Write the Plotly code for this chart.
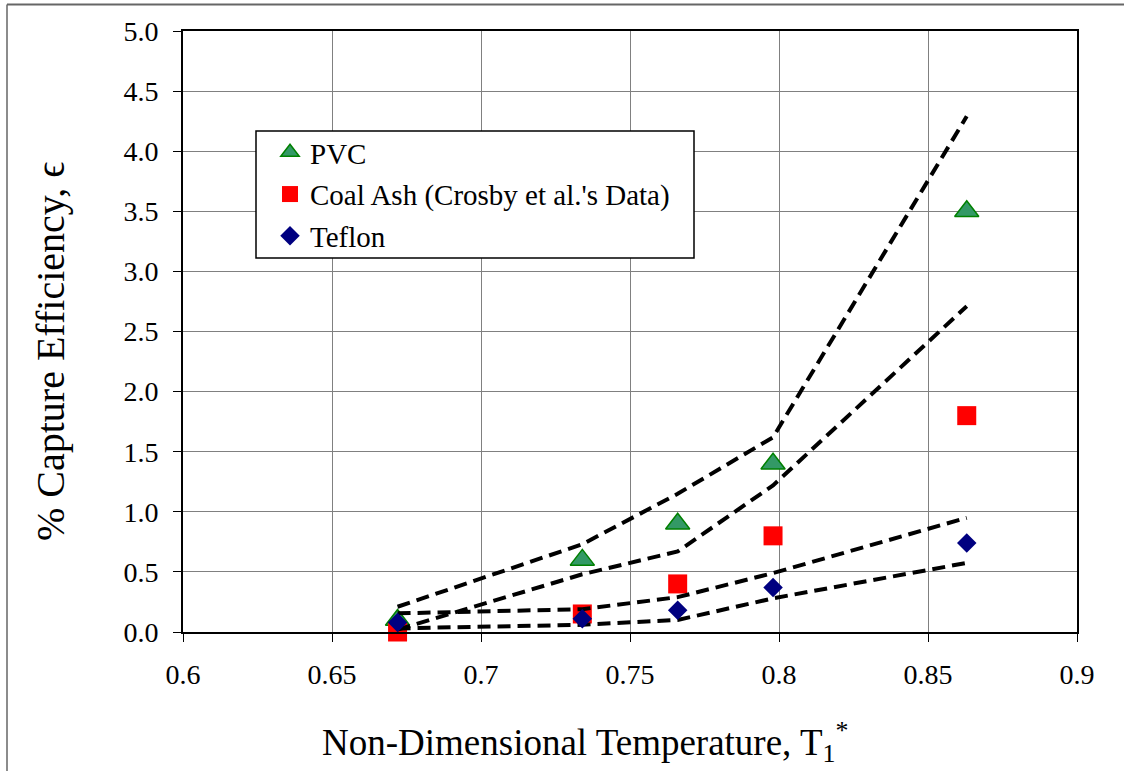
import plotly.graph_objects as go

# ---- data ----
temps = [0.672, 0.734, 0.766, 0.798, 0.863]
pvc = [0.10, 0.60, 0.90, 1.40, 3.50]
coal_ash = [0.00, 0.15, 0.40, 0.80, 1.80]
teflon = [0.08, 0.11, 0.18, 0.37, 0.74]

# dashed envelope curves
env_pvc_upper = [0.21, 0.73, 1.15, 1.62, 4.29]
env_mid_upper = [0.02, 0.48, 0.67, 1.22, 2.71]
env_mid_lower = [0.155, 0.19, 0.29, 0.49, 0.95]
env_teflon_lower = [0.03, 0.06, 0.10, 0.28, 0.575]

x_ticks = [0.6, 0.65, 0.7, 0.75, 0.8, 0.85, 0.9]
x_tick_labels = ["0.6", "0.65", "0.7", "0.75", "0.8", "0.85", "0.9"]
y_ticks = [0.0, 0.5, 1.0, 1.5, 2.0, 2.5, 3.0, 3.5, 4.0, 4.5, 5.0]
y_tick_labels = ["0.0", "0.5", "1.0", "1.5", "2.0", "2.5", "3.0", "3.5", "4.0", "4.5", "5.0"]

FONT = "Liberation Serif"

# pixel-to-paper helpers for layout geometry
L, R, T, B = 183, 1077, 31, 632
W, H = 1124, 771
def px(xp):
    return (xp - L) / (R - L)
def py(yp):
    return (B - yp) / (B - T)

fig = go.Figure()

fig.add_trace(go.Scatter(
    x=temps, y=pvc, mode="markers", name="PVC", legendgroup="a",
    marker=dict(symbol="triangle-up", size=21, color="#339966",
                line=dict(color="#008000", width=1.5)),
    cliponaxis=False))
fig.add_trace(go.Scatter(
    x=temps, y=coal_ash, mode="markers", name="Coal Ash (Crosby et al.'s Data)",
    legendgroup="b",
    marker=dict(symbol="square", size=19, color="#FF0000"),
    cliponaxis=False))

for env in [env_pvc_upper, env_mid_upper, env_mid_lower, env_teflon_lower]:
    fig.add_trace(go.Scatter(
        x=temps, y=env, mode="lines", showlegend=False, hoverinfo="skip",
        line=dict(color="black", width=4, dash="13px,7px")))

fig.add_trace(go.Scatter(
    x=temps, y=teflon, mode="markers", name="Teflon", legendgroup="c",
    marker=dict(symbol="diamond", size=15, color="#000080"),
    cliponaxis=False))

axis_common = dict(
    showgrid=True, gridcolor="#808080", gridwidth=1,
    showline=True, linecolor="black", linewidth=2, mirror=True,
    ticks="outside", ticklen=8, tickcolor="black", tickwidth=1,
    zeroline=False,
    tickfont=dict(family=FONT, size=28, color="black"),
)

fig.update_layout(
    width=W, height=H,
    margin=dict(l=L, r=W - R, t=T, b=H - B),
    paper_bgcolor="white", plot_bgcolor="white",
    font=dict(family=FONT, color="black"),
    showlegend=True,
    legend=dict(
        x=px(270), y=py(127), xanchor="left", yanchor="top",
        bgcolor="rgba(0,0,0,0)", borderwidth=0,
        font=dict(family=FONT, size=29, color="black"),
        traceorder="grouped", tracegroupgap=1,
    ),
    xaxis=dict(range=[0.6, 0.9], tickvals=x_ticks, ticktext=x_tick_labels,
               ticklabelstandoff=8, **axis_common),
    yaxis=dict(range=[0, 5], tickvals=y_ticks, ticktext=y_tick_labels,
               ticklabelstandoff=9, **axis_common),
    shapes=[
        # legend box
        dict(type="rect", xref="paper", yref="paper",
             x0=px(256), x1=px(694), y0=py(258), y1=py(131),
             line=dict(color="black", width=1.5), fillcolor="white", layer="above"),
        # outer chart-area border (top and left edges)
        dict(type="line", xref="paper", yref="paper",
             x0=px(7), x1=px(1124), y0=py(4.5), y1=py(4.5),
             line=dict(color="#666666", width=2), layer="above"),
        dict(type="line", xref="paper", yref="paper",
             x0=px(7), x1=px(7), y0=py(4.5), y1=py(771),
             line=dict(color="#666666", width=1.5), layer="above"),
    ],
    annotations=[
        dict(text="Non-Dimensional Temperature, T<sub>1</sub><sup>*</sup>",
             xref="paper", yref="paper", x=px(585), y=py(742),
             xanchor="center", yanchor="middle", showarrow=False,
             font=dict(family=FONT, size=37, color="black")),
        dict(text="% Capture Efficiency, \u03f5",
             xref="paper", yref="paper", x=px(50), y=py(352),
             xanchor="center", yanchor="middle", showarrow=False, textangle=-90,
             font=dict(family=FONT, size=40, color="black")),
    ],
)

fig.write_html(
    "out.html",
    config={"displayModeBar": False},
    post_script="document.body.style.margin='0';document.body.style.overflow='hidden';",
)
